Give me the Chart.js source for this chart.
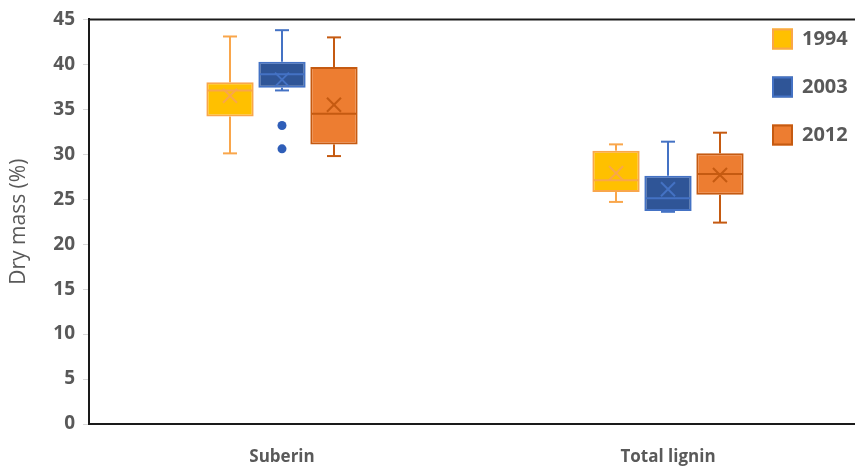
<!DOCTYPE html>
<html>
<head>
<meta charset="utf-8">
<script src="https://cdn.jsdelivr.net/npm/chart.js@4.4.0/dist/chart.umd.min.js"></script>
<style>
  html, body { margin: 0; padding: 0; background: #fff; overflow: hidden; }
  #wrap { width: 855px; height: 468px; overflow: hidden; }
</style>
</head>
<body>
<div id="wrap"><canvas id="boxChart" width="861" height="468"></canvas></div>
<script>
// categories and series
const categories = ['Suberin', 'Total lignin'];
const years = ['1994', '2003', '2012'];

// box statistics, one row per year (1994, 2003, 2012), one column per category
const mins    = [[30.1, 24.7], [37.1, 23.6], [29.8, 22.4]];
const q1s     = [[34.2, 25.8], [37.4, 23.7], [31.1, 25.5]];
const medians = [[37.1, 27.1], [38.9, 25.1], [34.5, 27.8]];
const q3s     = [[38.0, 30.4], [40.3, 27.6], [39.7, 30.1]];
const maxs    = [[43.1, 31.1], [43.8, 31.4], [43.0, 32.4]];
const means   = [[36.5, 27.9], [38.3, 26.1], [35.5, 27.7]];
const outliers = [[[], []], [[33.2, 30.6], []], [[], []]];

const yTicks = [0, 5, 10, 15, 20, 25, 30, 35, 40, 45];

const fills   = ['#FFC000', '#2F5597', '#ED7D31'];
const borders = ['#F9A64B', '#4472C4', '#C55A11'];

const labelGray = '#595959';
const fontFam = '"Open Sans", sans-serif';

// boxes are floating bars from q1 to q3
const datasets = years.map((yr, i) => ({
  label: yr,
  data: q1s[i].map((q, j) => [q, q3s[i][j]]),
  backgroundColor: fills[i],
  borderColor: borders[i],
  borderWidth: 2,
  borderSkipped: false,
  categoryPercentage: 0.404,
  barPercentage: 0.91
}));

function line(ctx, x1, y1, x2, y2) {
  ctx.beginPath();
  ctx.moveTo(x1, y1);
  ctx.lineTo(x2, y2);
  ctx.stroke();
}

// whiskers, medians, means and outliers on top of the boxes
const boxExtras = {
  id: 'boxExtras',
  afterDatasetsDraw(chart) {
    const ctx = chart.ctx;
    const y = chart.scales.y;
    chart.data.datasets.forEach((ds, i) => {
      const meta = chart.getDatasetMeta(i);
      meta.data.forEach((bar, j) => {
        const x = bar.x;
        const half = bar.width / 2;
        const cap = 7;
        ctx.save();
        ctx.strokeStyle = borders[i];
        ctx.lineWidth = 2;
        // upper whisker
        const yMax = y.getPixelForValue(maxs[i][j]);
        const yQ3 = y.getPixelForValue(q3s[i][j]);
        line(ctx, x, yQ3, x, yMax);
        line(ctx, x - cap, yMax, x + cap, yMax);
        // lower whisker
        const yMin = y.getPixelForValue(mins[i][j]);
        const yQ1 = y.getPixelForValue(q1s[i][j]);
        line(ctx, x, yQ1, x, yMin);
        line(ctx, x - cap, yMin, x + cap, yMin);
        // median
        const yMed = y.getPixelForValue(medians[i][j]);
        line(ctx, x - half + 1, yMed, x + half - 1, yMed);
        // mean as an X
        const yMean = y.getPixelForValue(means[i][j]);
        const s = 7;
        line(ctx, x - s, yMean - s, x + s, yMean + s);
        line(ctx, x - s, yMean + s, x + s, yMean - s);
        // outliers
        ctx.fillStyle = '#2F5EB8';
        outliers[i][j].forEach(v => {
          ctx.beginPath();
          ctx.arc(x, y.getPixelForValue(v), 4.5, 0, Math.PI * 2);
          ctx.fill();
        });
        ctx.restore();
      });
    });
  },
  afterDraw(chart) {
    const ctx = chart.ctx;
    const area = chart.chartArea;
    ctx.save();
    // top frame line
    ctx.strokeStyle = '#1a1a1a';
    ctx.lineWidth = 2;
    line(ctx, area.left, area.top, area.right, area.top);
    // legend
    ctx.font = 'bold 20px ' + fontFam;
    ctx.textBaseline = 'middle';
    years.forEach((yr, i) => {
      const cy = 38.5 + i * 48;
      ctx.fillStyle = fills[i];
      ctx.fillRect(772, cy - 10, 21, 21);
      ctx.strokeStyle = borders[i];
      ctx.lineWidth = 2;
      ctx.strokeRect(773, cy - 9, 19, 19);
      ctx.fillStyle = labelGray;
      ctx.fillText(yr, 802, cy + 1);
    });
    ctx.restore();
  }
};

new Chart(document.getElementById('boxChart'), {
  type: 'bar',
  data: { labels: categories, datasets: datasets },
  options: {
    responsive: false,
    animation: false,
    layout: { padding: { top: 16, right: 0, left: 0, bottom: 0 } },
    plugins: {
      legend: { display: false },
      tooltip: { enabled: false }
    },
    scales: {
      x: {
        grid: { display: false },
        border: { display: true, color: '#1a1a1a', width: 2 },
        ticks: {
          color: labelGray,
          font: { family: fontFam, size: 17, weight: 'bold' },
          padding: 15
        },
        afterFit(scale) { scale.height = 44; }
      },
      y: {
        min: 0,
        max: 45,
        afterBuildTicks(scale) { scale.ticks = yTicks.map(v => ({ value: v })); },
        grid: {
          drawOnChartArea: false,
          drawTicks: true,
          tickLength: 6,
          color: '#d9d9d9'
        },
        border: { display: true, color: '#1a1a1a', width: 2 },
        ticks: {
          color: labelGray,
          font: { family: fontFam, size: 19, weight: 'bold' },
          padding: 8
        },
        title: {
          display: true,
          text: 'Dry mass (%)',
          color: labelGray,
          font: { family: fontFam, size: 21 },
          padding: { top: 6, bottom: 0 }
        },
        afterFit(scale) { scale.width = 89; }
      }
    }
  },
  plugins: [boxExtras]
});
</script>
</body>
</html>
